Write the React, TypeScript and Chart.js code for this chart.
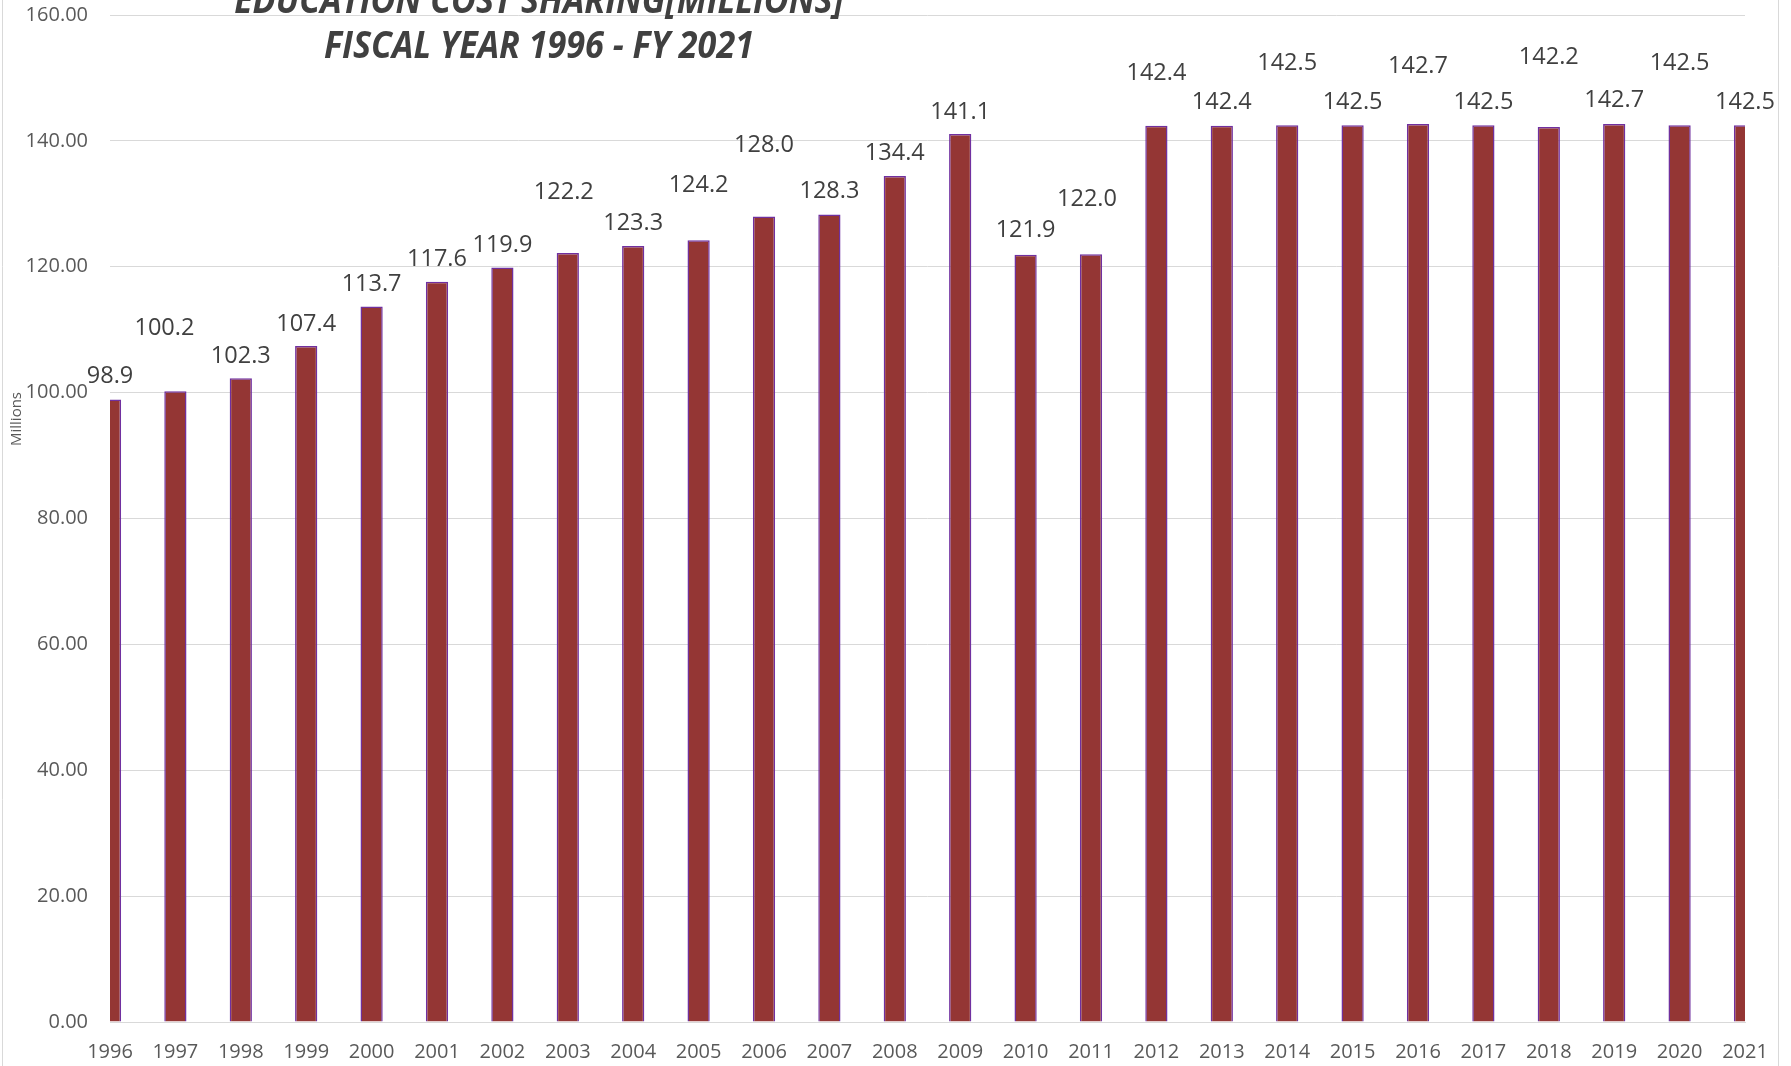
import React, { useEffect, useRef } from "react";
import { Chart, registerables } from "chart.js";

Chart.register(...registerables);

const years = [
  "1996", "1997", "1998", "1999", "2000", "2001", "2002", "2003", "2004",
  "2005", "2006", "2007", "2008", "2009", "2010", "2011", "2012", "2013",
  "2014", "2015", "2016", "2017", "2018", "2019", "2020", "2021",
];

const ecsMillions = [
  98.9, 100.2, 102.3, 107.4, 113.7, 117.6, 119.9, 122.2, 123.3, 124.2, 128.0,
  128.3, 134.4, 141.1, 121.9, 122.0, 142.4, 142.4, 142.5, 142.5, 142.7, 142.5,
  142.2, 142.7, 142.5, 142.5,
];

// vertical lift (px) of each data label above its bar top (manual Excel placement)
const labelLift = [
  23, 63, 22, 22, 22, 23, 22, 61, 23, 55, 71, 23, 23, 22, 24, 55, 52, 23, 62,
  23, 58, 23, 70, 24, 62, 23,
];
// horizontal nudge (px) of each data label
const labelNudge = [
  0, -11, 0, 0, 0, 0, 0, -4, 0, 0, 0, 0, 0, 0, 0, -4, 0, 0, 0, 0, 0, 0, 0, 0,
  0, 0,
];

const titleLines = ["EDUCATION COST SHARING[MILLIONS]", "FISCAL YEAR 1996 - FY 2021"];
const yMin = 0;
const yMax = 160;
const yStep = 20;

const FONT = "'Open Sans', 'Noto Sans', sans-serif";

const frameAndTitle = {
  id: "frameAndTitle",
  beforeDraw(chart: any) {
    const ctx = chart.ctx;
    ctx.save();
    ctx.fillStyle = "#ffffff";
    ctx.fillRect(0, 0, chart.width, chart.height);
    ctx.strokeStyle = "#d9d9d9";
    ctx.lineWidth = 1;
    ctx.beginPath();
    ctx.moveTo(2.5, 0);
    ctx.lineTo(2.5, chart.height);
    ctx.moveTo(1778.5, 0);
    ctx.lineTo(1778.5, chart.height);
    ctx.stroke();
    ctx.restore();
  },
  afterDraw(chart: any) {
    const ctx = chart.ctx;
    ctx.save();
    // display-unit label
    ctx.translate(17, 419);
    ctx.rotate(-Math.PI / 2);
    ctx.font = `15px ${FONT}`;
    ctx.fillStyle = "#595959";
    ctx.textAlign = "center";
    ctx.textBaseline = "middle";
    ctx.fillText("Millions", 0, 0);
    ctx.restore();

    // title (Calibri-like condensed bold italic)
    ctx.save();
    ctx.font = `italic bold 38px ${FONT}`;
    ctx.fillStyle = "#404040";
    ctx.textAlign = "center";
    ctx.textBaseline = "alphabetic";
    const w2 = ctx.measureText(titleLines[1]).width;
    const sx = 430 / w2;
    ctx.translate(539, 0);
    ctx.scale(sx, 1);
    ctx.fillText(titleLines[0], 0, 13);
    ctx.fillText(titleLines[1], 0, 58);
    ctx.restore();
  },
};

const barLabels = {
  id: "barLabels",
  afterDatasetsDraw(chart: any) {
    const ctx = chart.ctx;
    const meta = chart.getDatasetMeta(0);
    ctx.save();
    ctx.font = `23.5px ${FONT}`;
    ctx.fillStyle = "#404040";
    ctx.textAlign = "center";
    ctx.textBaseline = "middle";
    meta.data.forEach((bar: any, i: number) => {
      ctx.fillText(
        ecsMillions[i].toFixed(1),
        bar.x + labelNudge[i],
        bar.y - labelLift[i]
      );
    });
    ctx.restore();
  },
};

export default function App() {
  const canvasRef = useRef<HTMLCanvasElement | null>(null);

  useEffect(() => {
    if (!canvasRef.current) return;
    const chart = new Chart(canvasRef.current, {
      type: "bar",
      data: {
        labels: years,
        datasets: [
          {
            label: "Education Cost Sharing",
            data: ecsMillions,
            backgroundColor: "#943634",
            borderColor: "#7030A0",
            borderWidth: 1.5,
            categoryPercentage: 1,
            barPercentage: 0.34,
          },
        ],
      },
      options: {
        responsive: false,
        animation: false,
        devicePixelRatio: 1,
        layout: { padding: { top: 15, right: 46, left: 0, bottom: 0 } },
        plugins: {
          legend: { display: false },
          title: { display: false },
          tooltip: { enabled: false },
        },
        scales: {
          x: {
            type: "category",
            offset: false,
            grid: { display: false, drawTicks: false },
            border: { display: true, color: "#d9d9d9", width: 1 },
            ticks: {
              color: "#595959",
              font: { family: FONT, size: 20 },
              padding: 18,
              maxRotation: 0,
              autoSkip: false,
            },
            afterFit(scale: any) {
              scale.height = 44;
              scale.paddingLeft = 0;
              scale.paddingRight = 0;
            },
          },
          y: {
            min: yMin,
            max: yMax,
            grid: { color: "#d9d9d9", lineWidth: 1, drawTicks: false },
            border: { display: false },
            ticks: {
              stepSize: yStep,
              color: "#595959",
              font: { family: FONT, size: 20 },
              padding: 22,
              callback: (v: any) => Number(v).toFixed(2),
            },
            afterFit(scale: any) {
              scale.width = 110;
              scale.paddingTop = 0;
              scale.paddingBottom = 0;
            },
          },
        },
      },
      plugins: [frameAndTitle, barLabels],
    });
    return () => chart.destroy();
  }, []);

  return (
    <div style={{ position: "absolute", left: 0, top: 0, width: 1791, height: 1066 }}>
      <canvas ref={canvasRef} width={1791} height={1066} />
    </div>
  );
}
